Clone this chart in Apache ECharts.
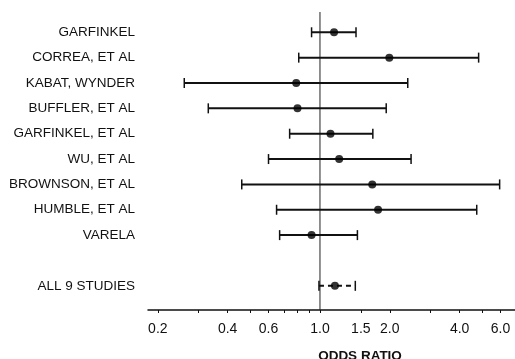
<!DOCTYPE html>
<html>
<head>
<meta charset="utf-8">
<script src="https://cdn.jsdelivr.net/npm/echarts@6/dist/echarts.min.js"></script>
<style>
html,body{margin:0;padding:0;background:#fff;}
#chart{width:515px;height:359px;}
</style>
</head>
<body>
<div id="chart"></div>
<script>
// Studies (top to bottom); '' is the blank spacer row
const studies = ['GARFINKEL','CORREA, ET AL','KABAT, WYNDER','BUFFLER, ET AL','GARFINKEL, ET AL','WU, ET AL','BROWNSON, ET AL','HUMBLE, ET AL','VARELA','','ALL 9 STUDIES'];
const oddsRatio = [1.15, 1.99, 0.79, 0.80, 1.11, 1.21, 1.68, 1.78, 0.92, null, 1.16];
const lowerCI   = [0.92, 0.81, 0.26, 0.33, 0.74, 0.60, 0.46, 0.65, 0.67, null, 0.99];
const upperCI   = [1.43, 4.83, 2.39, 1.93, 1.69, 2.47, 5.95, 4.74, 1.45, null, 1.42];
const pooledRow = 'ALL 9 STUDIES';
const tickValues  = [0.2,0.3,0.4,0.5,0.6,0.7,0.8,0.9,1.0,1.5,2,3,4,5,6,7];
const labelValues = [0.2,0.4,0.6,1.0,1.5,2.0,4.0,6.0];
const referenceValue = 1.0;
const xMin = 0.1814, xMax = 6.93;

const FONT = '"Liberation Sans", Arial, Helvetica, sans-serif';
const INK = '#111';

const barData = [];
const pointData = [];
studies.forEach((s, i) => {
  if (oddsRatio[i] == null) return;
  barData.push([i, lowerCI[i], upperCI[i], s === pooledRow ? 1 : 0]);
  pointData.push([oddsRatio[i], i]);
});

const chart = echarts.init(document.getElementById('chart'), null, {renderer: 'canvas'});
chart.setOption({
  animation: false,
  backgroundColor: '#fff',
  title: {
    text: 'ODDS RATIO',
    left: 355, top: 344,
    textAlign: 'center',
    textStyle: {fontFamily: FONT, fontSize: 13.5, fontWeight: 'bold', color: INK}
  },
  grid: [
    {left: 148, right: 0, top: 19.6, bottom: 60.5},
    {left: 148, right: 0, top: 12, bottom: 49}
  ],
  xAxis: [
    {type: 'log', gridIndex: 0, min: xMin, max: xMax, show: false},
    {type: 'log', gridIndex: 1, min: xMin, max: xMax,
     axisLine: {show: true, lineStyle: {color: INK, width: 1.5}},
     axisTick: {show: true, inside: false, length: 3, customValues: tickValues, lineStyle: {color: INK, width: 1}},
     minorTick: {show: false},
     splitLine: {show: false},
     axisLabel: {show: true, customValues: labelValues, margin: 12,
       fontFamily: FONT, fontSize: 14, color: INK,
       formatter: v => Number(v).toFixed(1)}
    }
  ],
  yAxis: [
    {type: 'category', gridIndex: 0, data: studies, inverse: true,
     axisLine: {show: false}, axisTick: {show: false}, splitLine: {show: false},
     axisLabel: {margin: 13, fontFamily: FONT, fontSize: 13.5, color: INK, padding: [3,0,0,0]}
    },
    {type: 'value', gridIndex: 1, min: 0, max: 1, show: false}
  ],
  series: [
    {
      type: 'line', xAxisIndex: 1, yAxisIndex: 1,
      data: [[referenceValue, 0], [referenceValue, 1]],
      symbol: 'none', lineStyle: {color: '#222', width: 1}, z: 1
    },
    {
      type: 'custom', xAxisIndex: 0, yAxisIndex: 0,
      encode: {x: [1, 2], y: 0},
      data: barData,
      renderItem: function (params, api) {
        const cat = api.value(0);
        const p1 = api.coord([api.value(1), cat]);
        const p2 = api.coord([api.value(2), cat]);
        const dashed = api.value(3) === 1;
        const h = 5;
        const st = {stroke: INK, lineWidth: 2, lineDash: dashed ? [5, 4] : null};
        const cap = {stroke: INK, lineWidth: 1.5};
        return {type: 'group', children: [
          {type: 'line', shape: {x1: p1[0], y1: p1[1], x2: p2[0], y2: p2[1]}, style: st},
          {type: 'line', shape: {x1: p1[0], y1: p1[1] - h, x2: p1[0], y2: p1[1] + h}, style: cap},
          {type: 'line', shape: {x1: p2[0], y1: p2[1] - h, x2: p2[0], y2: p2[1] + h}, style: cap}
        ]};
      },
      z: 2
    },
    {
      type: 'scatter', xAxisIndex: 0, yAxisIndex: 0,
      data: pointData, symbol: 'circle', symbolSize: 8,
      itemStyle: {color: '#000'}, z: 3
    }
  ]
});
</script>
</body>
</html>
